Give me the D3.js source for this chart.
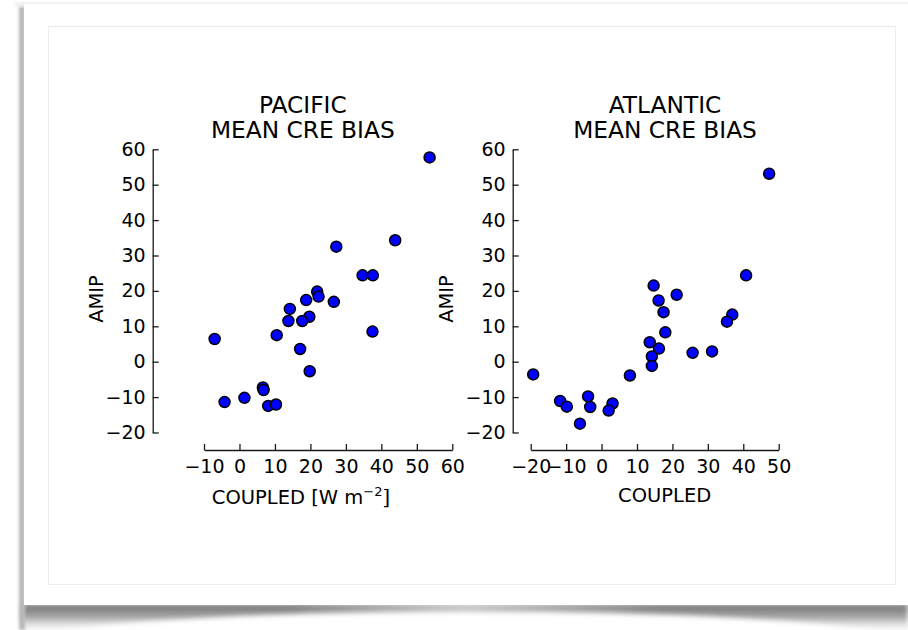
<!DOCTYPE html>
<html>
<head>
<meta charset="utf-8">
<script src="https://cdn.jsdelivr.net/npm/d3@7"></script>
<style>
  html, body { margin: 0; padding: 0; background: #ffffff; }
  svg { display: block; font-family: "DejaVu Sans", sans-serif; }
</style>
</head>
<body>
<svg id="chart" width="908" height="630"></svg>
<script>
// ---------------- data ----------------
const pacificCoupled = [53.6, 27.3, 43.9, 34.7, 37.6, 21.9, 22.3, 18.8, 26.6, 14.2, 19.7, 13.8, 17.7,
                        -7.0, 10.5, 37.5, 17.1, 19.8, 6.6, 6.8, -4.2, 1.4, 8.1, 10.3];
const pacificAmip    = [57.7, 32.5, 34.3, 24.4, 24.4, 19.8, 18.4, 17.4, 16.9, 14.9, 12.7, 11.5, 11.5,
                        6.4, 7.5, 8.5, 3.6, -2.7, -7.3, -8.0, -11.4, -10.2, -12.5, -12.1];
const atlanticCoupled = [47.3, 40.8, 14.7, 21.2, 16.1, 17.5, 36.9, 35.4,
                         18.0, 13.6, 16.2, 14.2, 14.2, 25.7, 31.2, -19.3, 8.0, -11.7, -9.8, -3.8, -3.2, -6.1, 3.1, 2.0];
const atlanticAmip    = [53.1, 24.4, 21.5, 18.9, 17.3, 14.0, 13.3, 11.3,
                         8.3, 5.5, 3.7, 1.5, -1.2, 2.5, 2.9, -3.6, -3.9, -11.1, -12.7, -9.8, -12.8, -17.5, -11.8, -13.8];
const yTicks = [-20, -10, 0, 10, 20, 30, 40, 50, 60];
const pacificXTicks = [-10, 0, 10, 20, 30, 40, 50, 60];
const atlanticXTicks = [-20, -10, 0, 10, 20, 30, 40, 50];
const titles = [["PACIFIC", "MEAN CRE BIAS"], ["ATLANTIC", "MEAN CRE BIAS"]];

// ---------------- layout ----------------
const svg = d3.select("#chart");
const defs = svg.append("defs");

const blur = defs.append("filter").attr("id", "blur").attr("x", "-20%").attr("y", "-50%").attr("width", "140%").attr("height", "200%");
blur.append("feGaussianBlur").attr("stdDeviation", 2.5);
const sideBlur = defs.append("filter").attr("id", "sideblur").attr("x", "-50%").attr("y", "-5%").attr("width", "200%").attr("height", "110%");
sideBlur.append("feGaussianBlur").attr("stdDeviation", 1.5);

const g1 = defs.append("linearGradient").attr("id", "bottomShade").attr("x1", 0).attr("y1", 0).attr("x2", 0).attr("y2", 1);
g1.append("stop").attr("offset", "0%").attr("stop-color", "#707070");
g1.append("stop").attr("offset", "45%").attr("stop-color", "#a8a8a8");
g1.append("stop").attr("offset", "100%").attr("stop-color", "#ffffff").attr("stop-opacity", 0);

// horizontal lightening in the middle of the bottom shadow
const g2 = defs.append("linearGradient").attr("id", "midLight").attr("x1", 0).attr("y1", 0).attr("x2", 1).attr("y2", 0);
g2.append("stop").attr("offset", "0%").attr("stop-color", "#fff").attr("stop-opacity", 0);
g2.append("stop").attr("offset", "30%").attr("stop-color", "#fff").attr("stop-opacity", 0);
g2.append("stop").attr("offset", "50%").attr("stop-color", "#fff").attr("stop-opacity", 0.55);
g2.append("stop").attr("offset", "72%").attr("stop-color", "#fff").attr("stop-opacity", 0);
g2.append("stop").attr("offset", "100%").attr("stop-color", "#fff").attr("stop-opacity", 0);

svg.append("path")
  .attr("d", "M22,604 L908,604 L908,634 C760,612 560,612 470,612 C380,612 180,612 22,634 Z")
  .attr("fill", "url(#bottomShade)")
  .attr("filter", "url(#blur)");
svg.append("rect")
  .attr("x", 22).attr("y", 604).attr("width", 886).attr("height", 26)
  .attr("fill", "url(#midLight)");
svg.append("rect")
  .attr("x", 19).attr("y", 5).attr("width", 6).attr("height", 625)
  .attr("fill", "#b8b8b8").attr("filter", "url(#sideblur)");
svg.append("rect")
  .attr("x", 15).attr("y", 2).attr("width", 900).attr("height", 5)
  .attr("fill", "#efefef").attr("filter", "url(#sideblur)");
svg.append("rect")
  .attr("x", 24).attr("y", 4).attr("width", 890).attr("height", 601)
  .attr("fill", "#ffffff");
svg.append("rect")
  .attr("x", 48.5).attr("y", 26.5).attr("width", 847).attr("height", 558)
  .attr("fill", "#ffffff").attr("stroke", "#ececec").attr("stroke-width", 1);

// ---------------- panels ----------------
const panels = [
  { xs: pacificCoupled, ys: pacificAmip, xTicks: pacificXTicks, xRange: [204, 452.3],
    spineX: 152.7, titleX: 302.8, ylabX: 103, xlabX: 301, xlabY: 504, title: titles[0], unit: true },
  { xs: atlanticCoupled, ys: atlanticAmip, xTicks: atlanticXTicks, xRange: [530.7, 778.7],
    spineX: 512.7, titleX: 665, ylabX: 453, xlabX: 664.7, xlabY: 502, title: titles[1], unit: false }
];
const spineY = 450;

panels.forEach(p => {
  const x = d3.scaleLinear().domain([p.xTicks[0], p.xTicks[p.xTicks.length - 1]]).range(p.xRange);
  const y = d3.scaleLinear().domain([-20, 60]).range([432.5, 149.3]);
  const g = svg.append("g");

  const fmt = d => d < 0 ? "\u2212" + Math.abs(d) : d;
  const xAxis = d3.axisBottom(x).tickValues(p.xTicks).tickSizeInner(-6).tickSizeOuter(0).tickPadding(10).tickFormat(fmt);
  const gx = g.append("g").attr("transform", `translate(0,${spineY})`).call(xAxis);

  const yAxis = d3.axisLeft(y).tickValues(yTicks).tickSizeInner(-6).tickSizeOuter(0).tickPadding(7).tickFormat(fmt);
  const gy = g.append("g").attr("transform", `translate(${p.spineX},0)`).call(yAxis);

  [gx, gy].forEach(ax => {
    ax.select(".domain").attr("stroke", "#1a1a1a").attr("stroke-width", 1.3);
    ax.selectAll(".tick line").attr("stroke", "#1a1a1a").attr("stroke-width", 1.3);
    ax.selectAll(".tick text").attr("fill", "#000").style("font-size", "19px")
      .style("font-family", "'DejaVu Sans', sans-serif");
  });

  const pts = p.xs.map((v, i) => [v, p.ys[i]]);
  g.append("g").selectAll("circle").data(pts).join("circle")
    .attr("cx", d => x(d[0])).attr("cy", d => y(d[1])).attr("r", 5.5)
    .attr("fill", "#0000ff").attr("stroke", "#000").attr("stroke-width", 1.5);

  const t = g.append("text").attr("text-anchor", "middle").attr("fill", "#000").style("font-size", "23.3px");
  t.append("tspan").attr("x", p.titleX).attr("y", 112.7).text(p.title[0]);
  t.append("tspan").attr("x", p.titleX).attr("y", 138.3).text(p.title[1]);

  g.append("text").attr("transform", `translate(${p.ylabX},299) rotate(-90)`)
    .attr("text-anchor", "middle").attr("fill", "#000").style("font-size", "19.5px").text("AMIP");

  const xl = g.append("text").attr("x", p.xlabX).attr("y", p.xlabY).attr("text-anchor", "middle")
    .attr("fill", "#000").style("font-size", "19.5px");
  if (p.unit) {
    xl.append("tspan").text("COUPLED [W m");
    xl.append("tspan").attr("dy", -8).style("font-size", "13px").text("\u22122");
    xl.append("tspan").attr("dy", 8).style("font-family", "'DejaVu Serif', serif").style("font-weight", "300").text("]");
  } else {
    xl.text("COUPLED");
  }
});
</script>
</body>
</html>
